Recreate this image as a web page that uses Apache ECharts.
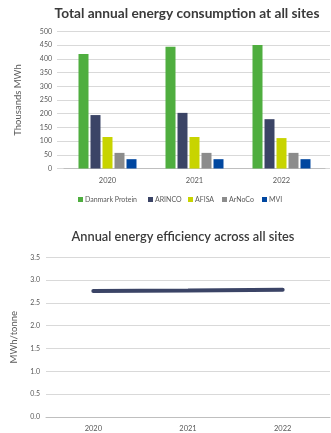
<!DOCTYPE html>
<html>
<head>
<meta charset="utf-8">
<script src="https://cdn.jsdelivr.net/npm/echarts@6/dist/echarts.min.js"></script>
<style>
  html, body { margin: 0; padding: 0; background: #fff; }
  #chart { width: 331px; height: 433px; }
</style>
</head>
<body>
<div id="chart"></div>
<script>
// Energy consumption per site (thousands MWh)
const years = ['2020', '2021', '2022'];
const siteNames = ['Danmark Protein', 'ARINCO', 'AFISA', 'ArNoCo', 'MVI'];
const danmarkProtein = [418, 444, 451];
const arinco = [195, 203, 180];
const afisa = [115, 115, 111];
const arnoco = [57, 57, 57];
const mvi = [34, 34, 34];
// Energy efficiency (MWh per tonne)
const efficiency = [2.76, 2.77, 2.79];

const siteColors = ['#4fae3f', '#3b4466', '#c8d400', '#8c8c8c', '#0047a0'];
const siteValues = [danmarkProtein, arinco, afisa, arnoco, mvi];
const legendLefts = [78, 148, 188, 222, 262];

const FONT = 'Lato, "Open Sans", sans-serif';
const labelColor = '#595959';
const gridColor = '#d9d9d9';

const chart = echarts.init(document.getElementById('chart'), null, { renderer: 'canvas' });

const barSeries = siteNames.map((name, i) => ({
  name: name,
  type: 'bar',
  xAxisIndex: 0,
  yAxisIndex: 0,
  data: siteValues[i],
  barWidth: 10,
  barGap: '20%',
  itemStyle: { color: siteColors[i] },
  silent: true
}));

// one legend entry per site, laid out along a single row
const legends = siteNames.map((name, i) => ({
  data: [name],
  left: legendLefts[i], top: 196,
  padding: 0,
  itemWidth: 5, itemHeight: 5,
  icon: 'rect',
  selectedMode: false,
  textStyle: { fontSize: 7, color: labelColor, fontFamily: FONT, padding: [0, 0, 0, -3] }
}));

chart.setOption({
  animation: false,
  textStyle: { fontFamily: FONT },
  title: [
    {
      text: 'Total annual energy consumption at all sites',
      left: 182, top: 2, textAlign: 'center',
      textStyle: { fontSize: 13.7, fontWeight: 'bold', color: '#3a3a3a', fontFamily: FONT }
    },
    {
      text: 'Annual energy efficiency across all sites',
      left: 178, top: 225, textAlign: 'center',
      textStyle: { fontSize: 12.8, fontWeight: 600, color: '#3a3a3a', fontFamily: FONT }
    }
  ],
  legend: legends,
  grid: [
    { left: 64, right: 6, top: 31.5, bottom: 264.5 },
    { left: 46, right: 1, top: 257.3, bottom: 14.7 },
    // backdrop for the horizontal gridlines of the bar chart
    { left: 57, right: 1, top: 31.5, bottom: 264.5 }
  ],
  xAxis: [
    {
      type: 'category', gridIndex: 0, data: years,
      axisLine: { lineStyle: { color: '#bfbfbf' } },
      axisTick: { show: false },
      axisLabel: { color: labelColor, fontSize: 7.5, margin: 8 }
    },
    {
      type: 'category', gridIndex: 1, data: years,
      axisLine: { lineStyle: { color: '#bfbfbf' } },
      axisTick: { show: false },
      axisLabel: { color: labelColor, fontSize: 7.5, margin: 8 }
    },
    {
      type: 'category', gridIndex: 2, data: years, show: false
    }
  ],
  yAxis: [
    {
      type: 'value', gridIndex: 0, min: 0, max: 500, interval: 50,
      name: 'Thousands MWh', nameLocation: 'middle', nameGap: 41,
      nameTextStyle: { fontSize: 9.5, color: labelColor },
      axisLine: { show: false }, axisTick: { show: false },
      axisLabel: { color: labelColor, fontSize: 7, margin: 12 },
      splitLine: { show: false }
    },
    {
      type: 'value', gridIndex: 1, min: 0, max: 3.5, interval: 0.5,
      name: 'MWh/tonne', nameLocation: 'middle', nameGap: 25,
      nameTextStyle: { fontSize: 9.5, color: labelColor },
      axisLine: { show: false }, axisTick: { show: false },
      axisLabel: { color: labelColor, fontSize: 7, margin: 6,
        formatter: v => v.toFixed(1) },
      splitLine: { lineStyle: { color: gridColor } }
    },
    {
      type: 'value', gridIndex: 2, min: 0, max: 500, interval: 50,
      axisLine: { show: false }, axisTick: { show: false },
      axisLabel: { show: false },
      splitLine: { lineStyle: { color: gridColor } },
      z: 0
    }
  ],
  series: barSeries.concat([
    {
      name: 'MWh/tonne',
      type: 'line',
      xAxisIndex: 1,
      yAxisIndex: 1,
      data: efficiency,
      showSymbol: false,
      symbol: 'none',
      lineStyle: { color: '#3b4466', width: 4, cap: 'round' },
      silent: true
    }
  ])
});
</script>
</body>
</html>
